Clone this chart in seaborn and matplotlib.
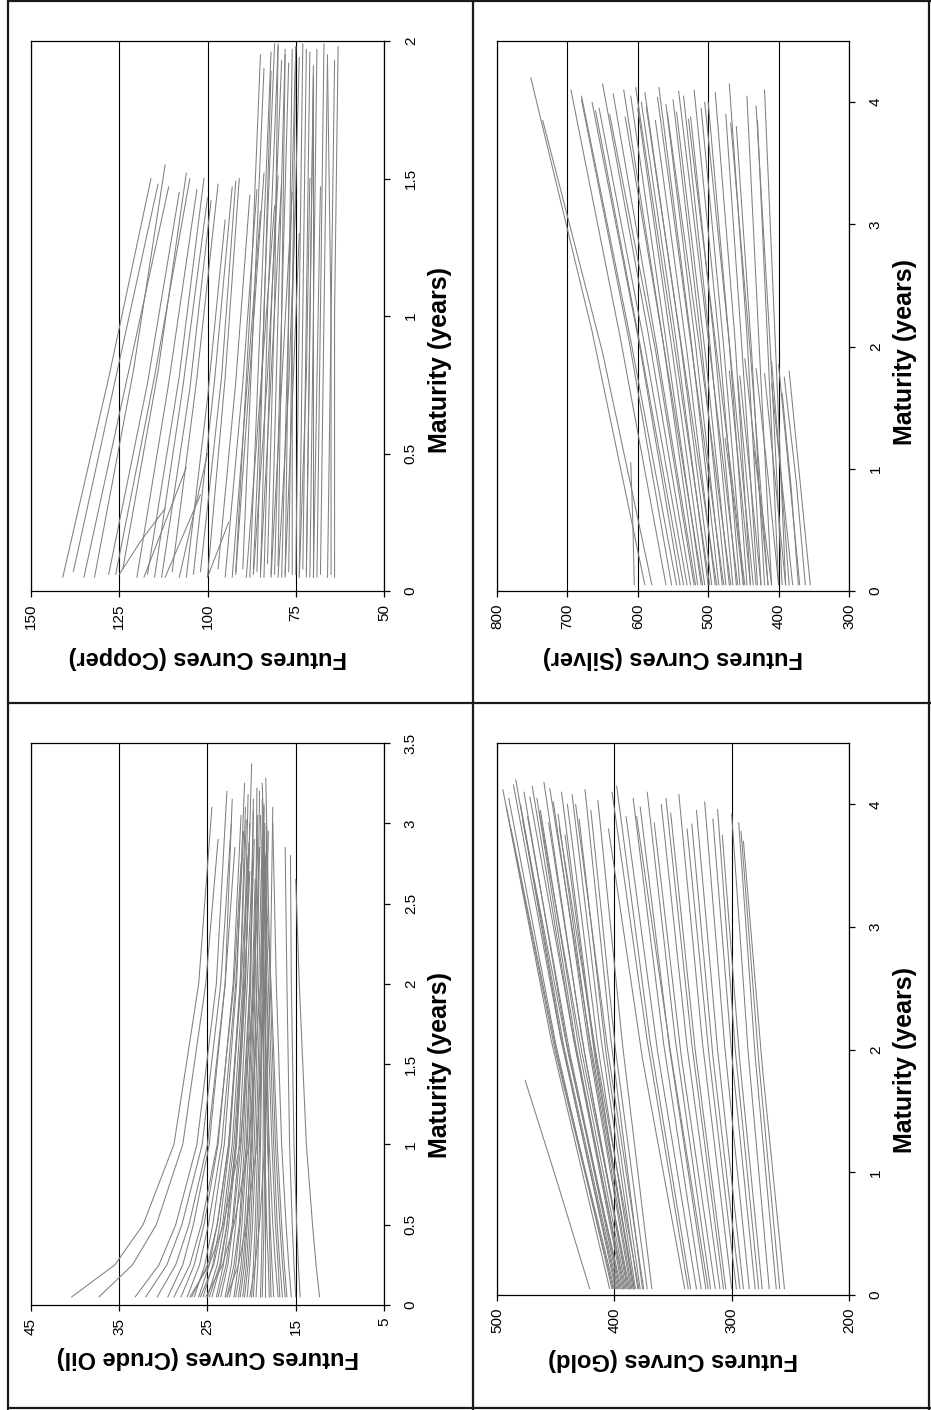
import numpy as np
import pandas as pd
import matplotlib
matplotlib.use("Agg")
import matplotlib.pyplot as plt
import seaborn as sns
from matplotlib.lines import Line2D
from matplotlib.ticker import FuncFormatter

sns.set_theme(style="white")
plt.rcParams["font.family"] = ["Liberation Sans", "DejaVu Sans"]

# ---------------- Copper: start maturity, end maturity, price at start / middle / end
copper_t0 = [0.05, 0.06, 0.05, 0.08, 0.06, 0.07, 0.05, 0.09, 0.06, 0.05, 0.07, 0.05, 0.08, 0.06, 0.05, 0.07, 0.06, 0.05, 0.10, 0.05,
             0.05, 0.07, 0.05, 0.06, 0.08, 0.05, 0.06, 0.05, 0.07, 0.05, 0.06, 0.05, 0.08, 0.05, 0.06, 0.05, 0.07, 0.05, 0.06, 0.05, 0.05,
             0.05, 0.06, 0.05, 0.05, 0.05,
             0.06, 0.05, 0.07, 0.05, 0.06, 0.05, 0.08, 0.05, 0.06, 0.05, 0.07, 0.05, 0.06, 0.05]
copper_T = [1.98, 1.95, 1.97, 1.96, 1.99, 1.94, 1.98, 1.92, 1.97, 1.93, 1.99, 1.96, 1.90, 1.98, 1.88, 1.95, 1.97, 1.92, 1.99, 1.86,
            1.50, 1.48, 1.55, 1.45, 1.52, 1.46, 1.50, 1.42, 1.48, 1.35, 1.47, 1.50, 1.44, 1.46, 1.52, 1.40, 1.49, 1.45, 1.30, 1.50, 1.47,
            0.45, 0.30, 0.35, 0.25, 0.50,
            1.93, 1.99, 1.91, 1.97, 1.95, 1.98, 1.89, 1.47, 1.50, 1.43, 1.49, 1.38, 1.51, 1.44]
copper_p0 = [64, 68, 71, 73, 75, 77, 79, 80, 82, 84, 86, 88, 90, 76, 70, 92, 74, 66, 83, 72,
             141, 138, 132, 128, 124, 120, 117, 113, 110, 106, 104, 100, 97, 95, 92, 89, 85, 82, 78, 74, 70,
             118, 125, 112, 100, 108,
             65, 69, 72, 78, 81, 85, 87, 135, 126, 115, 102, 93, 87, 80]
copper_pm = [64, 67, 70, 72, 74, 76, 77, 79, 80, 82, 84, 85, 87, 76, 70, 88, 73, 65, 81, 71,
             128, 126, 121, 117, 114, 111, 108, 105, 103, 100, 98, 95, 92, 90, 88, 85, 82, 79, 76, 72, 69,
             112, 119, 107, 97, 104,
             65, 68, 71, 77, 79, 83, 84, 123, 115, 107, 96, 89, 83, 77]
copper_pT = [63, 66, 69, 71, 73, 74, 75, 77, 78, 79, 81, 82, 84, 75, 70, 85, 72, 66, 80, 70,
             116, 114, 112, 108, 106, 103, 101, 99, 97, 95, 93, 91, 88, 86, 84, 81, 79, 76, 74, 71, 68,
             106, 112, 102, 94, 100,
             64, 67, 70, 76, 78, 80, 82, 111, 105, 100, 92, 85, 80, 75]

# ---------------- Silver
silver_t0 = [0.05] * 58
silver_T = [4.20, 3.85, 4.10, 4.05, 4.00, 3.95, 4.15, 3.90, 4.10, 4.05, 3.95, 4.00, 4.08, 3.85, 4.12, 3.98, 4.02, 3.92, 4.05, 3.88,
            4.10, 3.95, 4.00, 4.08, 3.90, 4.15, 3.80, 4.05, 3.85, 4.10,
            1.80, 1.75, 1.85, 1.70, 1.78, 1.82, 1.90, 1.76, 1.05, 1.80,
            4.02, 3.93, 4.07, 3.88, 4.12, 3.96, 4.04, 3.91, 4.09, 3.86, 4.00, 3.83, 3.97,
            1.62, 1.88, 1.15, 1.72, 1.25]
silver_p0 = [590, 580, 560, 545, 540, 530, 525, 520, 515, 510, 505, 500, 495, 490, 485, 480, 475, 470, 465, 460,
             455, 450, 445, 440, 430, 425, 420, 410, 400, 390,
             355, 362, 370, 380, 390, 400, 415, 425, 605, 440,
             552, 535, 518, 508, 498, 488, 478, 468, 458, 448, 436, 415, 395,
             372, 385, 410, 432, 450]
silver_pm = [665, 650, 625, 610, 598, 590, 585, 575, 565, 560, 552, 545, 540, 530, 525, 518, 510, 505, 498, 490,
             485, 478, 470, 462, 452, 445, 438, 428, 415, 405,
             370, 375, 385, 395, 405, 415, 430, 440, 607, 455,
             612, 596, 575, 562, 550, 538, 525, 512, 500, 488, 470, 440, 412,
             382, 397, 422, 445, 462]
silver_pT = [752, 735, 695, 680, 665, 655, 650, 640, 620, 610, 600, 595, 590, 575, 570, 560, 550, 545, 535, 525,
             520, 510, 500, 490, 475, 470, 460, 445, 430, 420,
             385, 392, 400, 410, 420, 432, 448, 455, 610, 470,
             680, 660, 635, 618, 603, 588, 572, 558, 542, 528, 505, 468, 432,
             395, 410, 435, 458, 476]

# ---------------- Crude oil: end maturity, price at 0.05 / 0.25 / 0.5 / 1 / 2 yr and at the end
crude_T = [3.10, 2.90, 3.20, 3.00, 2.85, 3.15, 2.75, 3.05, 2.95, 3.25, 2.80, 3.10, 2.70, 3.00, 3.37, 2.90, 3.15, 2.65, 3.05, 2.85,
           3.20, 2.75, 3.10, 2.95, 3.00, 2.80, 3.15, 2.70, 3.05, 2.90, 3.25, 2.60, 3.00, 2.85, 2.80, 2.65, 3.10, 2.95, 3.00, 2.85,
           3.02, 2.88, 3.18, 2.78, 3.08, 2.92, 3.22, 2.72, 3.12, 2.98, 2.82, 3.28]
crude_p0 = [40.4, 37.3, 33.2, 32.0, 30.7, 29.5, 28.8, 28.0, 27.3, 26.5, 26.0, 25.5, 25.0, 24.5, 24.0, 23.5, 23.0, 22.5, 22.0, 21.5,
            21.0, 20.5, 20.0, 19.5, 19.0, 18.5, 18.0, 17.5, 17.0, 16.8, 16.5, 16.0, 15.5, 15.0, 14.5, 12.3, 20.2, 22.8, 25.2, 27.0,
            26.8, 25.8, 24.8, 23.8, 22.8, 21.8, 21.3, 20.8, 19.8, 18.8, 17.8, 16.2]
crude_p025 = [35.5, 33.5, 30.5, 29.6, 28.6, 27.8, 27.0, 26.5, 25.9, 25.3, 24.8, 24.4, 23.9, 23.5, 23.2, 22.7, 22.3, 21.8, 21.5, 21.0,
              20.6, 20.2, 19.8, 19.3, 18.9, 18.5, 18.1, 17.7, 17.3, 17.0, 16.8, 16.3, 15.8, 15.2, 14.7, 12.7, 19.6, 21.5, 23.3, 24.8,
              25.0, 24.3, 23.6, 22.9, 22.0, 21.2, 20.8, 20.4, 19.6, 18.7, 17.9, 16.5]
crude_p05 = [32.3, 30.8, 28.6, 27.9, 27.1, 26.6, 25.7, 25.4, 24.9, 24.4, 23.9, 23.6, 23.1, 22.8, 22.6, 22.1, 21.8, 21.3, 21.1, 20.6,
             20.3, 19.9, 19.6, 19.2, 18.8, 18.5, 18.3, 17.9, 17.6, 17.3, 17.1, 16.6, 16.1, 15.4, 14.9, 13.1, 19.1, 20.6, 22.0, 23.2,
             23.9, 23.3, 22.8, 22.2, 21.4, 20.8, 20.5, 20.1, 19.4, 18.6, 18.0, 16.8]
crude_p1 = [28.8, 27.8, 26.2, 25.6, 25.0, 24.8, 23.9, 23.8, 23.4, 23.1, 22.6, 22.5, 22.0, 21.8, 21.7, 21.2, 21.0, 20.6, 20.5, 20.0,
            19.9, 19.5, 19.3, 19.0, 18.7, 18.5, 18.5, 18.2, 18.0, 17.7, 17.5, 17.1, 16.6, 15.7, 15.2, 13.8, 18.5, 19.4, 20.3, 21.3,
            22.6, 22.2, 21.8, 21.4, 20.8, 20.3, 20.1, 19.7, 19.1, 18.5, 18.1, 17.3]
crude_p2 = [26.0, 25.2, 24.0, 23.5, 23.0, 23.0, 22.0, 22.1, 21.8, 21.7, 21.2, 21.3, 20.8, 20.7, 20.7, 20.2, 20.2, 19.9, 19.8, 19.4,
            19.4, 19.0, 18.9, 18.7, 18.6, 18.5, 18.7, 18.6, 18.6, 18.3, 18.1, 17.8, 17.2, 16.0, 15.5, 14.6, 17.9, 18.5, 19.0, 19.7,
            21.3, 21.0, 20.9, 20.5, 20.1, 19.7, 19.6, 19.2, 18.8, 18.4, 18.3, 17.9]
crude_pT = [24.5, 23.8, 22.8, 22.3, 21.9, 22.2, 21.2, 21.2, 20.9, 20.8, 20.4, 20.7, 20.2, 20.2, 20.0, 19.7, 19.8, 19.6, 19.3, 19.1,
            19.1, 18.7, 18.6, 18.6, 18.5, 18.5, 18.8, 18.8, 19.0, 18.8, 18.8, 18.4, 17.6, 16.2, 15.6, 15.0, 17.6, 18.1, 18.6, 19.1,
            20.6, 20.3, 20.4, 19.9, 19.8, 19.3, 19.4, 18.9, 18.6, 18.3, 18.5, 18.4]

# ---------------- Gold
gold_t0 = [0.05] * 55
gold_T = [1.75,
          4.12, 4.05, 3.80, 4.20, 4.00, 4.10, 3.90, 4.15, 4.05, 3.95, 4.18, 3.85, 4.02, 3.92, 4.10, 3.75, 4.00, 4.08, 3.88, 4.12, 3.95, 4.03,
          3.80, 4.15, 3.90, 4.05, 3.98, 4.10, 3.85, 4.00, 3.93, 4.08, 3.80, 3.95, 4.02, 3.88, 3.75, 3.92, 3.85, 3.70,
          3.98, 4.16, 3.86, 4.06, 3.94, 4.13, 3.82, 4.00,
          4.10, 3.90, 4.05, 3.84, 3.96, 3.78]
gold_p0 = [421,
           404, 402, 400, 399, 397, 396, 395, 393, 392, 390, 389, 388, 386, 385, 384, 383, 382, 380, 378, 376, 372, 368,
           340, 335, 330, 326, 322, 318, 314, 310, 305, 300, 296, 290, 285, 280, 274, 268, 262, 255,
           401, 398, 394, 391, 387, 383, 379, 375,
           337, 320, 307, 293, 277, 259]
gold_pm = [448,
           454, 450, 448, 446, 443, 441, 438, 435, 433, 430, 428, 425, 422, 420, 418, 416, 414, 411, 407, 403, 399, 393,
           376, 370, 363, 358, 353, 348, 343, 338, 331, 325, 319, 312, 306, 300, 293, 286, 280, 274,
           451, 446, 439, 434, 428, 421, 415, 406,
           372, 352, 334, 316, 297, 277]
gold_pT = [476,
           495, 490, 488, 484, 480, 477, 474, 470, 466, 463, 460, 456, 452, 448, 445, 442, 440, 436, 430, 425, 420, 414,
           405, 398, 390, 384, 378, 372, 366, 360, 352, 345, 338, 330, 323, 316, 308, 300, 294, 290,
           492, 486, 478, 472, 464, 455, 447, 433,
           402, 381, 356, 334, 312, 292]


def curves3(t0, T, p0, pm, pT):
    rows = []
    for i, (a, b, c, d, e) in enumerate(zip(t0, T, p0, pm, pT)):
        for t, p in ((a, c), ((a + b) / 2, d), (b, e)):
            rows.append((i, t, p))
    return pd.DataFrame(rows, columns=["curve", "maturity", "price"])


def curves_crude(T, p0, p025, p05, p1, p2, pT):
    rows = []
    for i, vals in enumerate(zip(T, p0, p025, p05, p1, p2, pT)):
        b = vals[0]
        for t, p in zip((0.05, 0.25, 0.5, 1.0, 2.0, b), vals[1:]):
            rows.append((i, t, p))
    return pd.DataFrame(rows, columns=["curve", "maturity", "price"])


W, H = 931, 1410
fig = plt.figure(figsize=(W / 100, H / 100), dpi=100)

panels = [
    dict(df=curves3(copper_t0, copper_T, copper_p0, copper_pm, copper_pT), name="Copper",
         box=(31, 41, 384, 591), xlim=(150, 50), xticks=[150, 125, 100, 75, 50], ymax=2.0,
         yticks=[0, 0.5, 1, 1.5, 2], xlab_y=657, ylab_y=360),
    dict(df=curves3(silver_t0, silver_T, silver_p0, silver_pm, silver_pT), name="Silver",
         box=(497, 41, 849, 591), xlim=(800, 300), xticks=[800, 700, 600, 500, 400, 300], ymax=4.5,
         yticks=[0, 1, 2, 3, 4], xlab_y=657, ylab_y=352),
    dict(df=curves_crude(crude_T, crude_p0, crude_p025, crude_p05, crude_p1, crude_p2, crude_pT), name="Crude Oil",
         box=(31, 743, 384, 1305), xlim=(45, 5), xticks=[45, 35, 25, 15, 5], ymax=3.5,
         yticks=[0, 0.5, 1, 1.5, 2, 2.5, 3, 3.5], xlab_y=1357, ylab_y=1065),
    dict(df=curves3(gold_t0, gold_T, gold_p0, gold_pm, gold_pT), name="Gold",
         box=(497, 743, 849, 1295), xlim=(500, 200), xticks=[500, 400, 300, 200], ymax=4.5,
         yticks=[0, 1, 2, 3, 4], xlab_y=1360, ylab_y=1060),
]

fmt = FuncFormatter(lambda v, _: f"{v:g}")

for p in panels:
    x0, y0, x1, y1 = p["box"]
    ax = fig.add_axes([x0 / W, 1 - y1 / H, (x1 - x0) / W, (y1 - y0) / H])
    sns.lineplot(data=p["df"], x="price", y="maturity", units="curve", estimator=None,
                 sort=False, color="#808080", linewidth=0.75, ax=ax, legend=False)
    ax.set_xlim(*p["xlim"])
    ax.set_ylim(0, p["ymax"])
    ax.set_xticks(p["xticks"])
    ax.set_yticks(p["yticks"])
    ax.xaxis.set_major_formatter(fmt)
    ax.yaxis.set_major_formatter(fmt)
    ax.yaxis.tick_right()
    ax.yaxis.set_label_position("right")
    ax.grid(True, axis="x", color="black", linewidth=0.8)
    ax.grid(False, axis="y")
    for s in ax.spines.values():
        s.set_visible(True)
        s.set_color("black")
        s.set_linewidth(0.9)
    ax.tick_params(axis="x", bottom=True, direction="out", length=4.3, width=0.9, color="black",
                   pad=5, labelsize=11, labelrotation=90, labelcolor="black")
    ax.tick_params(axis="y", left=False, right=True, labelleft=False, labelright=True, direction="out",
                   length=4.3, width=0.9, color="black", pad=10, labelsize=11, labelrotation=90,
                   labelcolor="black")
    for lab in ax.get_yticklabels():
        lab.set_va("center")
        lab.set_ha("left")
    ax.set_xlabel(f"Futures Curves ({p['name']})", fontsize=17, fontweight="bold",
                  rotation=180, color="black")
    ax.xaxis.set_label_coords(0.5, -(p["xlab_y"] - y1) / (y1 - y0))
    ax.xaxis.label.set_va("center")
    lab_x = 440 if x0 < 400 else 905
    ax.set_ylabel("Maturity (years)", fontsize=18, fontweight="bold", rotation=90, color="black")
    ax.yaxis.set_label_coords((lab_x - x0) / (x1 - x0), (y1 - p["ylab_y"]) / (y1 - y0))
    ax.yaxis.label.set_va("center")
    ax.yaxis.label.set_ha("center")


def fline(xs, ys):
    fig.add_artist(Line2D([x / W for x in xs], [1 - y / H for y in ys], color="#1a1a1a",
                          linewidth=1.6, transform=fig.transFigure))


fline([8, 8], [0, 1410])
fline([929, 929], [0, 1410])
fline([8, 931], [1, 1])
fline([8, 931], [1408, 1408])
fline([472.5, 472.5], [0, 1410])
fline([8, 931], [703, 703])

fig.savefig("out.png", dpi=100)
